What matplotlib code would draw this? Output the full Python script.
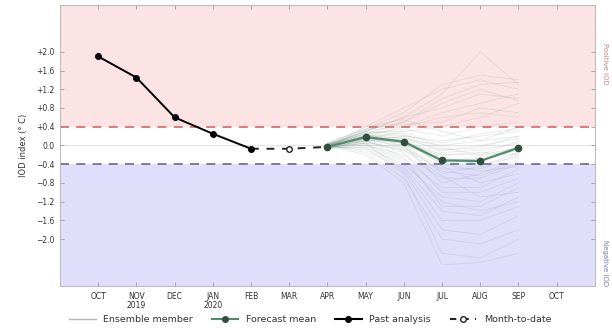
import numpy as np
import matplotlib
matplotlib.use("Agg")
import matplotlib.pyplot as plt
from matplotlib.lines import Line2D

# ---- data ----
month_labels = ["OCT", "NOV\n2019", "DEC", "JAN\n2020", "FEB", "MAR", "APR",
                "MAY", "JUN", "JUL", "AUG", "SEP", "OCT"]
past_months = [0, 1, 2, 3, 4]
past_values = [1.90, 1.45, 0.60, 0.25, -0.07]
mtd_months = [4, 5, 6]
mtd_values = [-0.07, -0.07, -0.03]
fc_months = [6, 7, 8, 9, 10, 11]
fc_mean = [-0.03, 0.18, 0.08, -0.32, -0.33, -0.05]
ens_members = [
    [0.00, 0.30, 0.60, 1.10, 2.00, 1.30],
    [0.05, 0.35, 0.70, 1.30, 1.50, 1.40],
    [-0.05, 0.40, 0.80, 1.20, 1.40, 1.20],
    [0.02, 0.25, 0.50, 1.00, 1.30, 1.35],
    [0.00, 0.30, 0.60, 0.80, 1.10, 1.00],
    [-0.03, 0.20, 0.40, 0.70, 0.90, 1.10],
    [0.05, 0.35, 0.45, 0.50, 0.80, 0.70],
    [-0.08, 0.15, 0.30, 0.40, 0.60, 0.90],
    [0.00, 0.25, 0.35, 0.20, 0.40, 0.50],
    [-0.05, 0.10, 0.20, 0.10, 0.20, 0.30],
    [0.03, 0.20, 0.15, 0.00, 0.10, 0.40],
    [-0.02, 0.30, 0.25, -0.10, -0.05, 0.20],
    [0.00, 0.15, 0.05, -0.20, -0.20, 0.10],
    [-0.06, 0.10, 0.00, -0.30, -0.30, -0.10],
    [0.04, 0.20, 0.10, -0.40, -0.35, 0.00],
    [-0.03, 0.05, -0.10, -0.50, -0.50, -0.20],
    [0.00, 0.25, 0.05, -0.60, -0.45, -0.15],
    [-0.07, 0.00, -0.20, -0.70, -0.70, -0.40],
    [0.02, 0.18, 0.00, -0.80, -0.60, -0.30],
    [-0.04, 0.05, -0.30, -0.90, -0.90, -0.50],
    [0.00, 0.10, -0.15, -1.00, -1.00, -0.70],
    [-0.05, -0.05, -0.40, -1.10, -1.20, -0.80],
    [0.03, 0.12, -0.25, -1.30, -1.30, -0.90],
    [-0.02, 0.00, -0.45, -1.40, -1.50, -1.10],
    [0.00, -0.10, -0.50, -1.60, -1.60, -1.30],
    [-0.06, 0.05, -0.55, -1.80, -1.90, -1.50],
    [0.01, -0.15, -0.70, -2.00, -2.10, -1.80],
    [-0.03, -0.05, -0.60, -2.30, -2.40, -2.00],
    [0.00, -0.20, -0.80, -2.55, -2.50, -2.30],
    [0.04, 0.28, 0.30, -0.05, -0.20, -0.05],
    [-0.04, 0.22, 0.20, -0.15, -0.10, 0.05],
    [0.02, 0.40, 0.55, 0.30, 0.10, 0.20],
    [0.00, 0.15, -0.05, -0.45, -0.80, -0.60],
    [-0.02, 0.10, 0.10, -0.25, -0.40, -0.25],
    [0.01, 0.32, 0.40, 0.60, 0.70, 0.60],
    [-0.01, 0.08, -0.10, -0.65, -1.10, -1.00],
    [0.02, 0.22, 0.15, -0.10, 0.00, 0.15],
    [-0.02, 0.12, 0.05, -0.35, -0.25, -0.05],
    [0.03, 0.26, 0.22, 0.05, 0.25, 0.35],
    [-0.04, 0.06, -0.05, -0.55, -0.65, -0.35],
    [0.01, 0.18, 0.12, -0.20, -0.15, -0.20],
    [0.00, 0.33, 0.50, 0.90, 1.20, 0.95],
    [-0.03, 0.02, -0.35, -1.20, -1.40, -1.20],
    [0.02, 0.14, 0.08, -0.40, -0.55, -0.45],
]
y_ticks = [2.0, 1.6, 1.2, 0.8, 0.4, 0.0, -0.4, -0.8, -1.2, -1.6, -2.0]
y_ticklabels = ["+2.0", "+1.6", "+1.2", "+0.8", "+0.4", "0.0",
                "\u22120.4", "\u22120.8", "\u22121.2", "\u22121.6", "\u22122.0"]
threshold = 0.4

# ---- figure ----
fig = plt.figure(figsize=(6.12, 3.28), dpi=100)
ax = fig.add_axes([0.098, 0.128, 0.874, 0.857])
x_lo, x_hi = -1.0, 13.0
y_lo, y_hi = -3.0, 3.0
ax.set_xlim(x_lo, x_hi)
ax.set_ylim(y_lo, y_hi)

ax.axhspan(threshold, y_hi, color="#fde4e4", zorder=0, lw=0)
ax.axhspan(y_lo, -threshold, color="#dfdffb", zorder=0, lw=0)
ax.axhline(0, color="#e4e4e4", lw=0.8, zorder=1)
ax.axhline(threshold, color="#d77272", lw=1.3, dashes=(5, 4), zorder=2)
ax.axhline(-threshold, color="#72729a", lw=1.3, dashes=(5, 4), zorder=2)

for m in ens_members:
    ax.plot(fc_months, m, color="#8fa098", lw=0.6, alpha=0.22, zorder=3)

ax.plot(past_months, past_values, color="black", lw=1.4, marker="o",
        ms=4, zorder=5)
ax.plot(mtd_months, mtd_values, color="#222222", lw=1.4, dashes=(4, 4),
        zorder=4)
ax.plot([mtd_months[1]], [mtd_values[1]], marker="o", ms=4, mfc="white",
        mec="#222222", ls="none", zorder=5)
ax.plot(fc_months, fc_mean, color="#4e8c6c", lw=1.6, marker="o", ms=4.5,
        mfc="#2f4f40", mec="#2f4f40", zorder=6)

ax.set_xticks(range(len(month_labels)))
ax.set_xticklabels(month_labels, fontsize=5.5, color="#333333", linespacing=1.1)
ax.set_yticks(y_ticks)
ax.set_yticklabels(y_ticklabels, fontsize=5.5, color="#333333")
ax.tick_params(direction="in", length=3, width=0.6, color="#999999",
               top=True, right=True, labelright=False, pad=4)
for s in ax.spines.values():
    s.set_color("#bbbbbb")
    s.set_linewidth(0.8)
ax.set_ylabel("IOD index (\u00b0 C)", fontsize=6, color="#333333", labelpad=6)

ax.text(1.014, (1.75 - y_lo) / (y_hi - y_lo), "Positive IOD", transform=ax.transAxes,
        rotation=270, fontsize=5, color="#d08080", ha="left", va="center")
ax.text(1.014, (-2.5 - y_lo) / (y_hi - y_lo), "Negative IOD", transform=ax.transAxes,
        rotation=270, fontsize=5, color="#7878b0", ha="left", va="center")

handles = [
    Line2D([], [], color="#b5b5b5", lw=1.0),
    Line2D([], [], color="#4e8c6c", lw=1.5, marker="o", ms=4, mfc="#2f4f40", mec="#2f4f40"),
    Line2D([], [], color="black", lw=1.5, marker="o", ms=4),
    Line2D([], [], color="#222222", lw=1.5, marker="o", ms=4, mfc="white",
           markevery=[1], dashes=(3, 3)),
]
labels = ["Ensemble member", "Forecast mean", "Past analysis", "Month-to-date"]
fig.legend(handles, labels, loc="lower center", bbox_to_anchor=(0.507, -0.015),
           ncol=4, frameon=False, fontsize=6.8, handlelength=2.8,
           columnspacing=2.0, labelcolor="#333333")

fig.savefig("out.png", dpi=100)
